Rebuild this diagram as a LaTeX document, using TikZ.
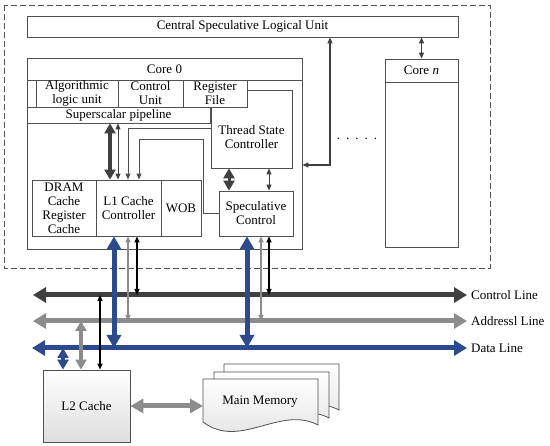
\documentclass[tikz,border=0pt]{standalone}
\usepackage{fontspec}
\setmainfont{Liberation Serif}
\usetikzlibrary{arrows.meta}
\definecolor{ctlgray}{HTML}{404040}
\definecolor{addrgray}{HTML}{8C8C8C}
\definecolor{datablue}{HTML}{2E4A8E}
\definecolor{edgegray}{HTML}{505050}

\begin{document}
\begin{tikzpicture}[
  x=1pt, y=-1pt,
  every node/.style={font=\fontsize{13}{14}\selectfont},
  box/.style={draw=edgegray, line width=0.8pt, fill=white, inner sep=0pt, align=center},
  shadebox/.style={box, top color=white, bottom color=black!13},
  buslabel/.style={anchor=west, inner sep=4pt},
  bus/.style={line width=5pt, {Triangle[length=13pt,width=15pt]}-{Triangle[length=13pt,width=15pt]}},
  fat/.style={line width=5pt, {Triangle[length=13pt,width=14pt]}-{Triangle[length=13pt,width=14pt]}},
  mid/.style={line width=3.5pt, {Triangle[length=10pt,width=11pt]}-{Triangle[length=10pt,width=11pt]}},
  thin/.style={line width=1.2pt, {Triangle[length=6pt,width=5pt]}-{Triangle[length=6pt,width=5pt]}},
  thinone/.style={draw=edgegray, line width=0.9pt, -{Triangle[length=6pt,width=5pt]}},
  doc/.style={draw=edgegray, line width=0.8pt, top color=white, bottom color=black!13}
]
\useasboundingbox (0,0) rectangle (550,446);

% outer chip frame
\draw[edgegray, line width=0.8pt, dash pattern=on 6pt off 3pt] (4,5) rectangle (490,268);

% central unit
\node[box, minimum width=431pt, minimum height=21pt] (cslu) at (242.5,26.5) {Central Speculative Logical Unit};

% core 0
\node[box, minimum width=275pt, minimum height=191pt] (core0) at (164.5,153.5) {};
\node[box, minimum width=275pt, minimum height=22pt] (c0title) at (164.5,69) {Core 0};
\node[box, minimum width=81pt, minimum height=78pt] (tsc) at (251.5,129) {};
\node[box, minimum width=82pt, minimum height=27pt] (alu) at (77,93.5) {Algorithmic\\logic unit};
\node[box, minimum width=65pt, minimum height=27pt] (cu) at (150.5,93.5) {Control\\Unit};
\node[box, minimum width=64pt, minimum height=27pt] (rf) at (215,93.5) {Register\\File};
\node[box, minimum width=183pt, minimum height=16pt] (pipe) at (118.5,115) {Superscalar pipeline};
\node[align=center, inner sep=0pt] (tsctext) at (251.5,137.5) {Thread State\\Controller};
\node[box, minimum width=64pt, minimum height=56pt] (dram) at (64,208) {DRAM\\Cache\\Register\\Cache};
\node[box, minimum width=65pt, minimum height=56pt] (l1) at (128.5,208) {L1 Cache\\Controller};
\node[box, minimum width=40pt, minimum height=56pt] (wob) at (181,208) {WOB};
\node[box, minimum width=74pt, minimum height=45pt] (spec) at (256,213.5) {Speculative\\Control};

% core n
\node[box, minimum width=73pt, minimum height=188pt] (coren) at (421.5,153) {};
\node[box, minimum width=73pt, minimum height=23pt] (corentitle) at (421.5,70.5) {Core \textit{n}};
\node (dots) at (357,139) {.\hspace{6pt}.\hspace{6pt}.\hspace{6pt}.\hspace{6pt}.};

% links inside core 0
\draw[mid, ctlgray] ([xshift=-18.5pt]l1.north) -- ([xshift=-18.5pt]l1.north |- pipe.south);
\draw[thin, ctlgray, line width=0.9pt] ([xshift=-10.5pt]l1.north) -- ([xshift=-10.5pt]l1.north |- pipe.south);
\draw[thinone] ([yshift=1pt]tsc.west) -| ([xshift=-0.5pt]l1.north);
\draw[thinone] (spec.west) -- ++(-15,0) -- ++(0,-74.5) -| ([xshift=10.5pt]l1.north);
\draw[draw=edgegray, line width=0.8pt] ([yshift=3.5pt]rf.east) -- ([yshift=3.5pt]rf.east -| tsc.east);
\draw[mid, ctlgray, line width=3pt] ([xshift=-27pt]spec.north) -- ([xshift=-27pt]spec.north |- tsc.south);
\draw[thin, ctlgray, line width=0.9pt] ([xshift=13pt]spec.north) -- ([xshift=13pt]spec.north |- tsc.south);

% links to the central unit
\draw[thin, ctlgray] ([xshift=87.5pt]cslu.south) |- ([yshift=-11.5pt]core0.east);
\draw[thin, ctlgray] (coren.north) -- (coren.north |- cslu.south);

% buses
\coordinate (ctlL) at (33,295);
\coordinate (adrL) at (33,321);
\coordinate (datL) at (32,348);
\node[buslabel] (ctl) at (467,295) {Control Line};
\node[buslabel] (adr) at (467,321) {Addressl Line};
\node[buslabel] (dat) at (467,348) {Data Line};
\draw[bus, ctlgray] (ctlL) -- (ctl);
\draw[bus, addrgray] (adrL) -- (adr);
\draw[bus, datablue] (datL) -- (dat);

% core 0 to buses
\draw[fat, datablue] ([xshift=-14.5pt]l1.south) -- ([xshift=-14.5pt]l1.south |- datL);
\draw[thin, addrgray] ([xshift=-0.5pt]l1.south) -- ([xshift=-0.5pt]l1.south |- adrL);
\draw[thin, black] ([xshift=8.5pt]l1.south) -- ([xshift=8.5pt]l1.south |- ctlL);
\draw[fat, datablue] ([xshift=-9pt]spec.south) -- ([xshift=-9pt]spec.south |- datL);
\draw[thin, addrgray] ([xshift=5pt]spec.south) -- ([xshift=5pt]spec.south |- adrL);
\draw[thin, black] ([xshift=13pt]spec.south) -- ([xshift=13pt]spec.south |- ctlL);

% L2 cache and main memory
\node[shadebox, minimum width=87pt, minimum height=72pt] (l2) at (86.5,406) {L2 Cache};
\draw[mid, datablue, line width=4pt] ([xshift=-23.5pt]l2.north) -- ([xshift=-23.5pt]l2.north |- datL);
\draw[mid, addrgray] ([xshift=-5.5pt]l2.north) -- ([xshift=-5.5pt]l2.north |- adrL);
\draw[thin, black] ([xshift=13.5pt]l2.north) -- ([xshift=13.5pt]l2.north |- ctlL);

\foreach \dx/\dy in {21/-15, 11/-7, 0/0}{
  \begin{scope}[shift={(\dx,\dy)}]
    \draw[doc] (203,379) -- (318,379) -- (318,425)
      .. controls (280,405) and (240,450) .. (203,422) -- cycle;
  \end{scope}
}
\node (mem) at (260,402) {Main Memory};
\coordinate (memw) at (203,406);
\draw[fat, addrgray] (l2.east) -- (memw);
\end{tikzpicture}
\end{document}
